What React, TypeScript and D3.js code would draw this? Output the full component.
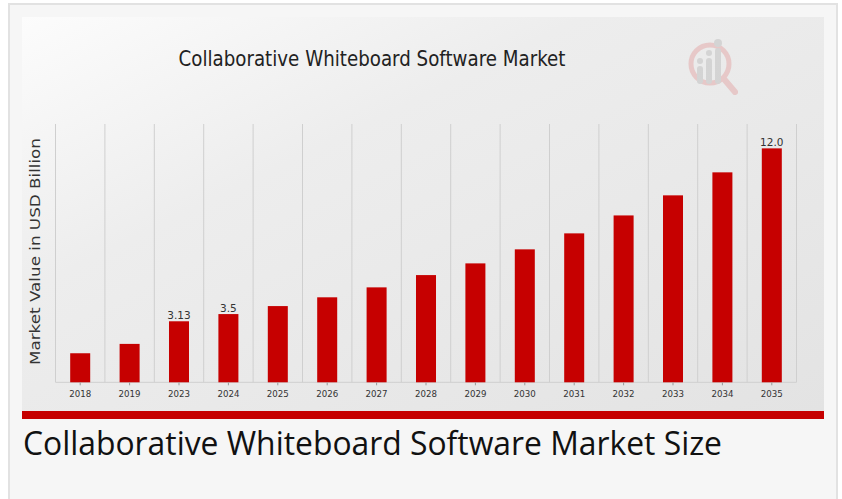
import * as d3 from "d3";

// chart data
const years = ["2018", "2019", "2023", "2024", "2025", "2026", "2027", "2028", "2029", "2030", "2031", "2032", "2033", "2034", "2035"];
const marketValues = [1.49, 1.97, 3.13, 3.5, 3.91, 4.36, 4.87, 5.5, 6.1, 6.82, 7.64, 8.56, 9.59, 10.77, 12.0];
const shownLabels: { [key: string]: string } = { "2023": "3.13", "2024": "3.5", "2035": "12.0" };

const chartTitle = "Collaborative Whiteboard Software Market";
const yTitle = "Market Value in USD Billion";
const caption = "Collaborative Whiteboard Software Market Size";

const W = 842;
const H = 499;
const RED = "#c60000";

export default function App() {
    // plot area
    const left = 55.5, right = 796.5, top = 124, bottom = 382.3;

    const x = d3.scaleBand<string>()
        .domain(years)
        .range([left, right])
        .paddingInner(0.595)
        .paddingOuter(0.2975);
    const y = d3.scaleLinear()
        .domain([0, 13.25])
        .range([bottom, top]);

    const step = x.step();
    const bw = x.bandwidth();
    const gridXs = years.map(d => (x(d) as number) + bw / 2 - step / 2).concat([right]);

    return (
        <svg width={W} height={H} style={{ position: "absolute", left: 0, top: 0, display: "block" }}>
            <defs>
                <linearGradient id="bg" x1="0" y1="0" x2="1" y2="1">
                    <stop offset="0%" stopColor="#fcfcfc" />
                    <stop offset="35%" stopColor="#ededed" />
                    <stop offset="100%" stopColor="#e3e3e3" />
                </linearGradient>
            </defs>
            <rect x={0} y={0} width={W} height={H} fill="#ffffff" />
            {/* outer card */}
            <rect x={9} y={4} width={828} height={H} fill="#f6f6f6" stroke="#e2e2e2" strokeWidth={2} />
            {/* chart image */}
            <rect x={22} y={17} width={802} height={394} fill="url(#bg)" />
            <rect x={22} y={411} width={802} height={8} fill={RED} />

            <text x={372} y={66} textAnchor="middle" fontFamily="DejaVu Sans" fontSize={21}
                textLength={387} lengthAdjust="spacingAndGlyphs" fill="#222">{chartTitle}</text>

            {/* faint logo */}
            <g opacity={0.35}>
                <circle cx={710} cy={64} r={19} fill="none" stroke="#e08a8a" strokeWidth={5} />
                <line x1={724} y1={79} x2={735} y2={92} stroke="#e08a8a" strokeWidth={6} strokeLinecap="round" />
                <rect x={697} y={66} width={6} height={18} rx={3} fill="#aaaaaa" />
                <rect x={706} y={58} width={6} height={26} rx={3} fill="#aaaaaa" />
                <rect x={715} y={48} width={6} height={36} rx={3} fill="#aaaaaa" />
                <circle cx={700} cy={61} r={3} fill="#aaaaaa" />
                <circle cx={709} cy={53} r={3} fill="#aaaaaa" />
                <circle cx={718} cy={43} r={4} fill="#aaaaaa" />
            </g>

            {/* vertical gridlines */}
            {gridXs.map((gx, i) => (
                <line key={"g" + i} x1={gx} x2={gx} y1={top} y2={bottom} stroke="#cfcfcf" strokeWidth={1} />
            ))}
            <line x1={left} x2={right} y1={bottom} y2={bottom} stroke="#cfcfcf" strokeWidth={1} />

            {/* bars */}
            {years.map((d, i) => (
                <rect key={d} x={x(d)} y={y(marketValues[i])} width={bw}
                    height={y(0) - y(marketValues[i])} fill={RED} />
            ))}

            {/* tick marks + labels */}
            {years.map(d => {
                const cx = (x(d) as number) + bw / 2;
                return (
                    <g key={"t" + d}>
                        <line x1={cx} x2={cx} y1={bottom} y2={bottom + 3} stroke="#999" />
                        <text x={cx} y={397} textAnchor="middle" fontFamily="DejaVu Sans" fontSize={9.5}
                            textLength={22} lengthAdjust="spacingAndGlyphs" fill="#333">{d}</text>
                    </g>
                );
            })}

            {/* value labels */}
            {years.map((d, i) => shownLabels[d] ? (
                <text key={"v" + d} x={(x(d) as number) + bw / 2} y={y(marketValues[i]) - 2}
                    textAnchor="middle" fontFamily="DejaVu Sans" fontSize={10.5} fill="#333">{shownLabels[d]}</text>
            ) : null)}

            <text transform={`translate(40, 251.5) rotate(-90)`} textAnchor="middle" fontFamily="DejaVu Sans"
                fontSize={14.5} textLength={227} lengthAdjust="spacingAndGlyphs" fill="#333">{yTitle}</text>

            <text x={23} y={455} fontFamily="Open Sans" fontSize={32} textLength={699}
                lengthAdjust="spacingAndGlyphs" fill="#111">{caption}</text>
        </svg>
    );
}
